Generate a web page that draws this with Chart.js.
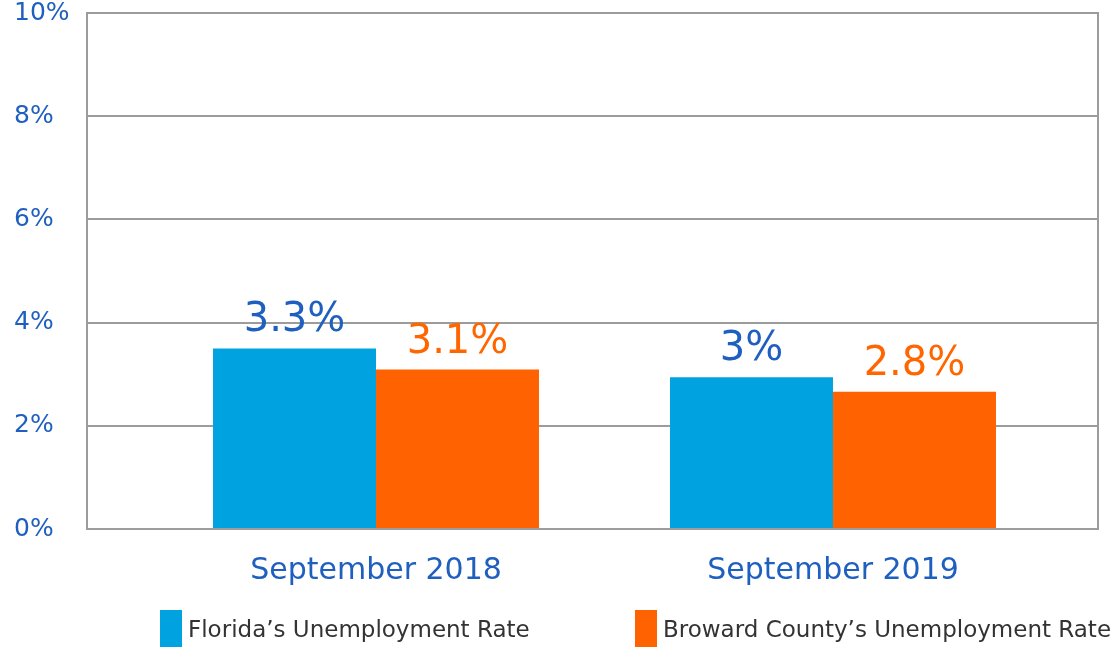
<!DOCTYPE html>
<html>
<head>
<meta charset="utf-8">
<script src="https://cdn.jsdelivr.net/npm/chart.js@4.4.1/dist/chart.umd.min.js"></script>
<style>
  html, body { margin: 0; padding: 0; background: #ffffff; }
  #wrap { position: relative; width: 1114px; height: 647px; overflow: hidden; }
  #legend { position: absolute; top: 610px; left: 0; width: 1114px; height: 37px; font-family: "DejaVu Sans", sans-serif; font-size: 23px; color: #333333; }
  .item { position: absolute; top: 0; display: flex; align-items: center; height: 37px; white-space: nowrap; }
  .box { width: 22px; height: 37px; margin-right: 6px; }
</style>
</head>
<body>
<div id="wrap">
  <canvas id="myChart" width="1114" height="647"></canvas>
  <div id="legend"></div>
</div>
<script>
// data
const categories = ['September 2018', 'September 2019'];
const seriesNames = ['Florida\u2019s Unemployment Rate', 'Broward County\u2019s Unemployment Rate'];
// bar heights as drawn (percent)
const floridaValues = [3.5, 2.94];
const browardValues = [3.09, 2.66];
// value labels as printed above the bars
const floridaLabels = ['3.3%', '3%'];
const browardLabels = ['3.1%', '2.8%'];
const yTicks = [0, 2, 4, 6, 8, 10];

const textBlue = '#1f5fbf';
const gridGray = '#9c9c9c';

// draws the printed value above every bar
const valueLabels = {
  id: 'valueLabels',
  afterDatasetsDraw(chart) {
    const ctx = chart.ctx;
    chart.data.datasets.forEach((ds, i) => {
      const meta = chart.getDatasetMeta(i);
      meta.data.forEach((bar, j) => {
        ctx.save();
        ctx.font = '40px "DejaVu Sans"';
        ctx.fillStyle = ds.labelColor;
        ctx.textAlign = 'center';
        ctx.textBaseline = 'alphabetic';
        ctx.fillText(ds.valueText[j], bar.x, bar.y - 17);
        ctx.restore();
      });
    });
  }
};

// right edge of the plot frame
const frame = {
  id: 'frame',
  afterDraw(chart) {
    const a = chart.chartArea;
    const ctx = chart.ctx;
    ctx.save();
    ctx.strokeStyle = gridGray;
    ctx.lineWidth = 2;
    ctx.beginPath();
    ctx.moveTo(a.right, a.top - 1);
    ctx.lineTo(a.right, a.bottom + 1);
    ctx.stroke();
    ctx.restore();
  }
};

function initChart(target) {
  return new Chart(target, {
    type: 'bar',
    data: {
      datasets: [
        {
          label: seriesNames[0],
          data: floridaValues.map((v, i) => ({ x: i + 1, y: v })),
          backgroundColor: '#00a3e0',
          valueText: floridaLabels,
          labelColor: textBlue
        },
        {
          label: seriesNames[1],
          data: browardValues.map((v, i) => ({ x: i + 1, y: v })),
          backgroundColor: '#ff6200',
          valueText: browardLabels,
          labelColor: '#ff6600'
        }
      ]
    },
    options: {
      responsive: false,
      animation: false,
      devicePixelRatio: 1,
      layout: { padding: { left: 14, top: 12, right: 16, bottom: 0 } },
      categoryPercentage: 0.7133,
      barPercentage: 1,
      plugins: { legend: { display: false }, tooltip: { enabled: false } },
      scales: {
        // categories sit at 1 and 2 on a linear axis so they can be placed like the original
        x: {
          type: 'linear',
          offset: false,
          bounds: 'data',
          min: 0.3676,
          max: 2.5799,
          grid: { display: false, offset: false },
          border: { display: false },
          afterBuildTicks: (axis) => { axis.ticks = categories.map((c, i) => ({ value: i + 1 })); },
          afterFit: (axis) => { axis.height = 118; },
          ticks: {
            padding: 16,
            color: textBlue,
            font: { family: 'DejaVu Sans', size: 30 },
            callback: (v) => categories[Math.round(v) - 1]
          }
        },
        y: {
          min: 0,
          max: 10,
          afterBuildTicks: (axis) => { axis.ticks = yTicks.map(v => ({ value: v })); },
          afterFit: (axis) => { axis.width = 73; },
          grid: { color: gridGray, lineWidth: 2, drawTicks: false },
          border: { display: true, color: gridGray, width: 2 },
          ticks: {
            crossAlign: 'far',
            color: textBlue,
            font: { family: 'DejaVu Sans', size: 25, lineHeight: 0.8 },
            callback: (v) => v + '%'
          }
        }
      }
    },
    plugins: [valueLabels, frame]
  });
}

function buildLegend(chart) {
  const legend = document.querySelector('#legend');
  const starts = [160, 635];
  chart.data.datasets.forEach((ds, i) => {
    const item = document.createElement('div');
    item.className = 'item';
    item.style.left = starts[i] + 'px';
    const box = document.createElement('span');
    box.className = 'box';
    box.style.background = ds.backgroundColor;
    const txt = document.createElement('span');
    txt.textContent = ds.label;
    item.appendChild(box);
    item.appendChild(txt);
    legend.appendChild(item);
  });
}

const chart = initChart(document.querySelector('#myChart'));
buildLegend(chart);
</script>
</body>
</html>
